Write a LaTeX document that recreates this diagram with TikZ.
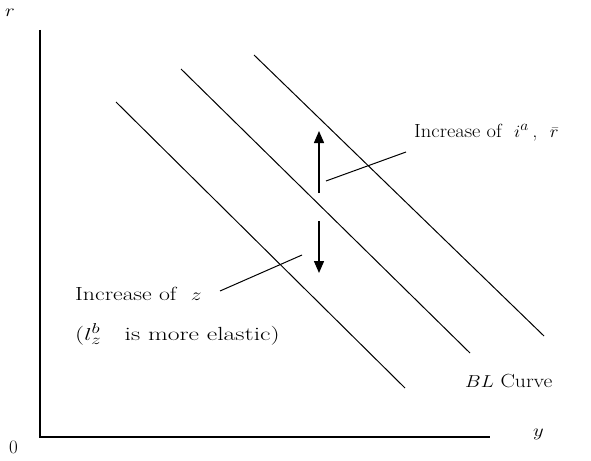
\documentclass[tikz,border=0pt]{standalone}
\usepackage{fontspec}
\usetikzlibrary{arrows.meta}
\newcommand{\widetxt}[2]{\scalebox{#1}[1]{#2}}
\begin{document}
\begin{tikzpicture}[x=1pt, y=-1pt, >={Triangle[length=12pt,width=10pt]},
		curve/.style={line width=1pt},
		shift arrow/.style={line width=1.4pt, ->},
		leader/.style={line width=1pt},
		lbl/.style={anchor=base west, inner sep=0pt, font=\fontsize{19}{22}\selectfont}]
			\useasboundingbox (0,0) rectangle (591,460);
			% axes
			\draw[line width=1.2pt] (40,30) coordinate (top) -- (40,437) coordinate (origin) -- (490,437) coordinate (right);
			\node[lbl] (rlab) at (5,17) {\widetxt{1.2}{$r$}};
			\node[lbl] (ylab) at (533,436) {\widetxt{1.2}{$y$}};
			\node[lbl] (zero) at (9,453) {0};
			% BL curves
			\draw[curve] (116,102) coordinate (a1) -- (405,388) coordinate (a2);
			\draw[curve] (181,69) coordinate (b1) -- (470,353) coordinate (b2);
			\draw[curve] (254,55) coordinate (c1) -- (544,336) coordinate (c2);
			\node[lbl] (bl) at (465,387) {\widetxt{1.14}{$BL$ Curve}};
			% shifts
			\draw[shift arrow] (319,193) coordinate (up0) -- (319,131) coordinate (up1);
			\draw[shift arrow] (319,221) coordinate (dn0) -- (319,273) coordinate (dn1);
			\node[lbl] (ia) at (414,137) {\widetxt{1.08}{Increase of \ $i^{a}$\,, \ $\bar{r}$}};
			\node[lbl] (iz) at (75,300) {\widetxt{1.25}{Increase of \ $z$}};
			\node[lbl] (el) at (75,340) {\widetxt{1.35}{($l_{z}^{b}$ \ \ is more elastic)}};
			\draw[leader] (326,181) coordinate (p1) -- (406,152) coordinate (p2);
			\draw[leader] (220,291) coordinate (q1) -- (302,255) coordinate (q2);
		\end{tikzpicture}
\end{document}
